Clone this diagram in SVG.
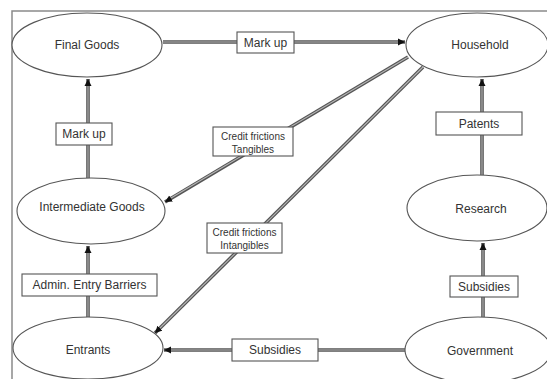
<svg xmlns="http://www.w3.org/2000/svg" width="547" height="379" viewBox="0 0 547 379">
<style>
.frame{fill:none;stroke:#8a8a8a;stroke-width:1.5}
.node ellipse{fill:#fff;stroke:#555;stroke-width:1.1}
.lbl rect{fill:#fff;stroke:#555;stroke-width:1.1}
text{font-family:"Liberation Sans",Arial,sans-serif;fill:#333;text-anchor:middle;dominant-baseline:central}
.big{font-size:12px}
.small{font-size:10px}
.outer{fill:none;stroke:#555;stroke-width:3.6}
.inner{fill:none;stroke:#b5b5b5;stroke-width:1.1}
</style>
<defs>
<marker id="ah" markerUnits="userSpaceOnUse" markerWidth="8" markerHeight="8" refX="7" refY="4" orient="auto">
<path d="M0,0.5 L7,4 L0,7.5 z" fill="#111"/>
</marker>
</defs>
<rect width="547" height="379" fill="#fff"/>
<path class="frame" d="M12,379 L12,11 L547,11"/>
<g id="connectors">
<path class="outer" d="M163,42 L405,42" marker-end="url(#ah)"/>
<path class="inner" d="M163,42 L398,42"/>
<path class="outer" d="M88,178 L88,79" marker-end="url(#ah)"/>
<path class="inner" d="M88,178 L88,86"/>
<path class="outer" d="M408,57 L165,202" marker-end="url(#ah)"/>
<path class="inner" d="M408,57 L171,198"/>
<path class="outer" d="M423,67 L155,333" marker-end="url(#ah)"/>
<path class="inner" d="M423,67 L160,328"/>
<path class="outer" d="M88,318 L88,246" marker-end="url(#ah)"/>
<path class="inner" d="M88,318 L88,253"/>
<path class="outer" d="M405,350 L164,350" marker-end="url(#ah)"/>
<path class="inner" d="M405,350 L171,350"/>
<path class="outer" d="M483,317 L483,243" marker-end="url(#ah)"/>
<path class="inner" d="M483,317 L483,250"/>
<path class="outer" d="M482,175 L482,79" marker-end="url(#ah)"/>
<path class="inner" d="M482,175 L482,86"/>
</g>
<g id="final-goods" class="node"><ellipse cx="87" cy="45" rx="75" ry="32"/><text class="big" x="87" y="45">Final Goods</text></g>
<g id="household" class="node"><ellipse cx="477" cy="45" rx="71" ry="32"/><text class="big" x="480" y="45">Household</text></g>
<g id="intermediate-goods" class="node"><ellipse cx="91" cy="211" rx="74" ry="33"/><text class="big" x="92" y="207">Intermediate Goods</text></g>
<g id="research" class="node"><ellipse cx="477" cy="208" rx="70" ry="33"/><text class="big" x="481" y="209">Research</text></g>
<g id="entrants" class="node"><ellipse cx="88" cy="348" rx="75" ry="31"/><text class="big" x="88" y="350">Entrants</text></g>
<g id="government" class="node"><ellipse cx="478" cy="350" rx="73" ry="33"/><text class="big" x="480" y="351">Government</text></g>
<g id="lbl-markup-top" class="lbl"><rect x="237" y="32" width="57" height="21"/><text class="big" x="265.5" y="42.5">Mark up</text></g>
<g id="lbl-markup-left" class="lbl"><rect x="56" y="123" width="56" height="22"/><text class="big" x="84" y="134">Mark up</text></g>
<g id="lbl-tangibles" class="lbl"><rect x="213" y="127" width="80" height="29"/><text class="small" x="253" y="136">Credit frictions</text><text class="small" x="253" y="149">Tangibles</text></g>
<g id="lbl-patents" class="lbl"><rect x="436" y="112" width="86" height="23"/><text class="big" x="479" y="123.5">Patents</text></g>
<g id="lbl-intangibles" class="lbl"><rect x="207" y="223" width="75" height="30"/><text class="small" x="244.5" y="232">Credit frictions</text><text class="small" x="244.5" y="245">Intangibles</text></g>
<g id="lbl-admin" class="lbl"><rect x="22" y="274" width="135" height="22"/><text class="big" x="89.5" y="285">Admin. Entry Barriers</text></g>
<g id="lbl-subsidies-bottom" class="lbl"><rect x="232" y="339" width="86" height="22"/><text class="big" x="275" y="350">Subsidies</text></g>
<g id="lbl-subsidies-right" class="lbl"><rect x="450" y="276" width="68" height="21"/><text class="big" x="484" y="286.5">Subsidies</text></g>
</svg>
